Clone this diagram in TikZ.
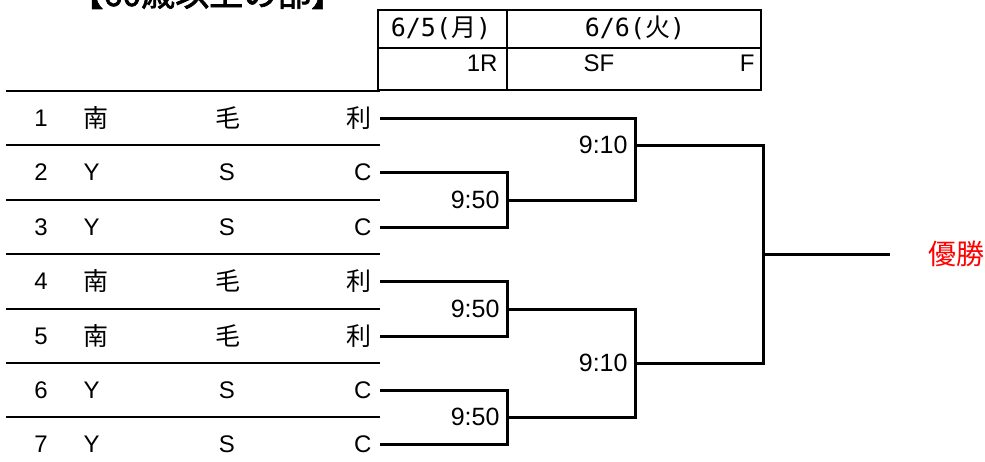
\documentclass[tikz,border=0pt]{standalone}
\usepackage{fontspec}
\setmainfont{Liberation Sans}
\newfontfamily\jp[AutoFakeBold=2]{Noto Sans CJK JP}
\newfontfamily\mono{DejaVu Sans Mono}
\usepackage{tikz}
\usetikzlibrary{positioning}
\usepackage{xcolor}

\begin{document}
\begin{tikzpicture}[x=1pt,y=-1pt,line width=3pt]
  \tikzstyle{entry}=[font=\fontsize{24}{24}\selectfont,inner sep=0pt]
  \tikzstyle{kanji}=[font=\jp\fontsize{25}{25}\selectfont,inner sep=0pt]
  \tikzstyle{date}=[font=\mono\fontsize{25}{25}\selectfont,inner sep=0pt]
  \tikzstyle{last}=[anchor=east,inner ysep=0pt,inner xsep=7pt]
  \tikzstyle{time}=[font=\fontsize{25}{25}\selectfont,inner sep=0pt]
  \tikzstyle{winner}=[font=\jp\fontsize{28}{28}\selectfont,text=red,inner sep=0pt]
  \tikzstyle{rule}=[line width=1.4pt]
  \tikzstyle{frame}=[line width=2.8pt]

  \useasboundingbox (0,0) rectangle (985,461);

  % title, cut by the page edge
  \node[anchor=base west,inner sep=0pt,font=\jp\bfseries\fontsize{34}{34}\selectfont]
       (title) at (68,6) {【60歳以上の部】};

  % header cells
  \draw[frame] (378,10) rectangle (761,90);
  \draw[frame] (378,48) -- (761,48);
  \draw[frame] (507,10) -- (507,90);
  \node[date] (d1) at (441,28) {6/5({\jp 月})};
  \node[date] (d2) at (635,28) {6/6({\jp 火})};
  \node[entry,anchor=east] (r1) at (499,63) {1R};
  \node[entry] (r2) at (599,63) {SF};
  \node[entry,anchor=east] (r3) at (756,63) {F};

  % row rules
  \draw[rule] (6,91) -- (380,91);
  \draw[rule] (6,145) -- (380,145);
  \draw[rule] (6,200) -- (380,200);
  \draw[rule] (6,254) -- (380,254);
  \draw[rule] (6,309) -- (380,309);
  \draw[rule] (6,363) -- (380,363);
  \draw[rule] (6,417) -- (380,417);

  % entrants
  \node[entry] (n1) at (41,118) {1};
  \node[kanji,anchor=west] (p1) at (82,118) {南};
  \node[kanji] (q1) at (228,118) {毛};
  \node[kanji,last] (e1) at (380,118) {利};

  \node[entry] (n2) at (41,172) {2};
  \node[entry,anchor=west] (p2) at (82,172) {Y};
  \node[entry] (q2) at (227,172) {S};
  \node[entry,last] (e2) at (380,172) {C};

  \node[entry] (n3) at (41,227) {3};
  \node[entry,anchor=west] (p3) at (82,227) {Y};
  \node[entry] (q3) at (227,227) {S};
  \node[entry,last] (e3) at (380,227) {C};

  \node[entry] (n4) at (41,281) {4};
  \node[kanji,anchor=west] (p4) at (82,281) {南};
  \node[kanji] (q4) at (228,281) {毛};
  \node[kanji,last] (e4) at (380,281) {利};

  \node[entry] (n5) at (41,336) {5};
  \node[kanji,anchor=west] (p5) at (82,336) {南};
  \node[kanji] (q5) at (228,336) {毛};
  \node[kanji,last] (e5) at (380,336) {利};

  \node[entry] (n6) at (41,390) {6};
  \node[entry,anchor=west] (p6) at (82,390) {Y};
  \node[entry] (q6) at (227,390) {S};
  \node[entry,last] (e6) at (380,390) {C};

  \node[entry] (n7) at (41,444) {7};
  \node[entry,anchor=west] (p7) at (82,444) {Y};
  \node[entry] (q7) at (227,444) {S};
  \node[entry,last] (e7) at (380,444) {C};

  % match points
  \coordinate (m1) at (507,200);
  \coordinate (m2) at (507,309);
  \coordinate (m3) at (507,417);
  \coordinate (s1) at (635,145);
  \coordinate (s2) at (635,363);
  \coordinate (f)  at (763,254);
  \coordinate (w)  at (890,254);

  \draw (e2.east) -| (m1) |- (e3.east);
  \draw (e4.east) -| (m2) |- (e5.east);
  \draw (e6.east) -| (m3) |- (e7.east);
  \draw (e1.east) -| (s1) |- (m1);
  \draw (m2) -| (s2) |- (m3);
  \draw (s1) -| (f) |- (s2);
  \draw (f) -- (w);

  \node[time,left=6pt of m1] (t1) {9:50};
  \node[time,left=6pt of m2] (t2) {9:50};
  \node[time,left=6pt of m3] (t3) {9:50};
  \node[time,left=6pt of s1] (t4) {9:10};
  \node[time,left=6pt of s2] (t5) {9:10};
  \node[winner,right=37pt of w] (champ) {優勝};
\end{tikzpicture}
\end{document}
